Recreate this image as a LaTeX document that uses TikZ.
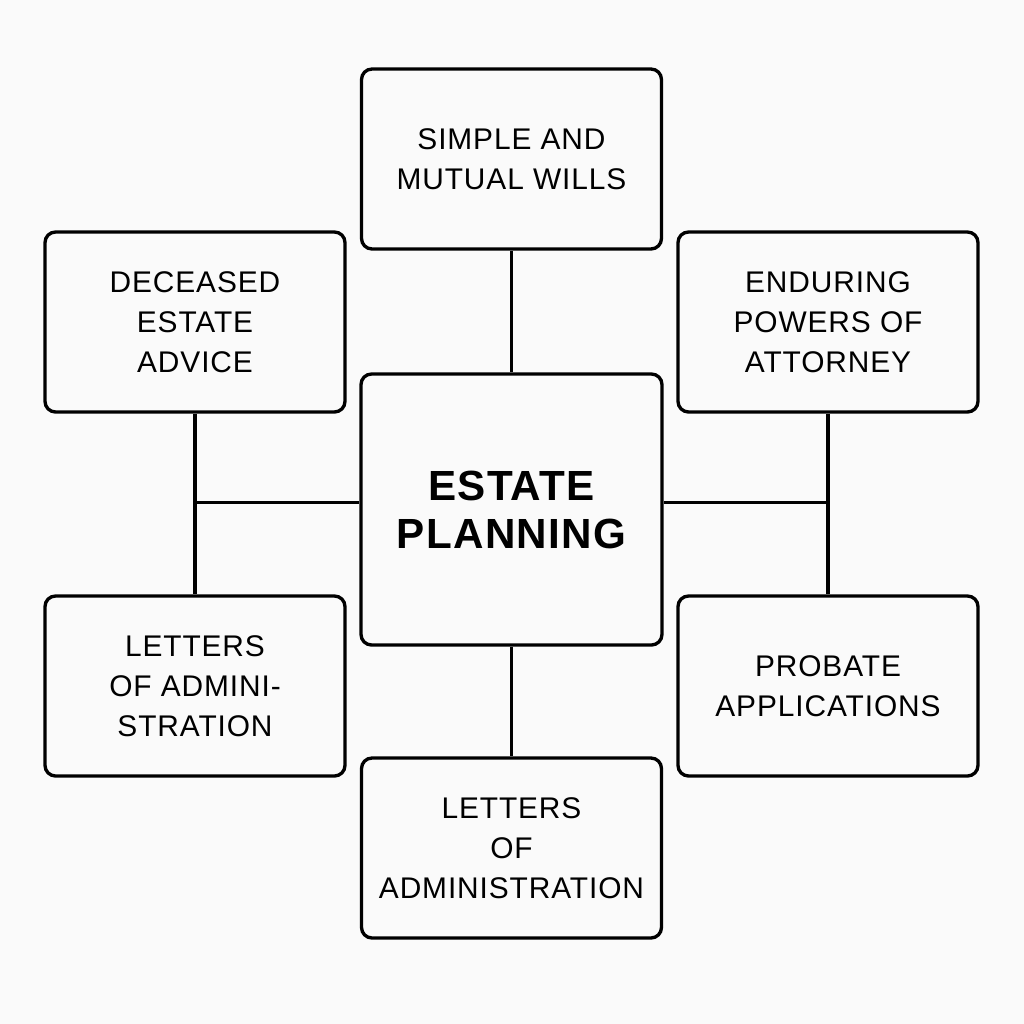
\documentclass[tikz,border=0pt]{standalone}
\usepackage{fontspec}
\setmainfont{Liberation Sans}[LetterSpace=3]
\usetikzlibrary{positioning,calc}

\begin{document}
\begin{tikzpicture}[
  font=\fontsize{17}{22.8}\selectfont,
  box/.style={
    draw,
    line width=1.9pt,
    rounded corners=6pt,
    align=center,
    minimum width=6cm,
    minimum height=3.6cm,
    inner sep=3pt
  },
  hubbox/.style={
    box,
    minimum width=6.02cm,
    minimum height=5.42cm,
    font=\fontsize{24}{27.3}\selectfont\bfseries
  },
  link/.style={
    line width=1.9pt
  }
]

\useasboundingbox[fill=black!2] (0,0) rectangle (20.48,-20.48);

% Hub
\node[hubbox] (hub) at (10.23,-10.19) {ESTATE\\PLANNING};

% Outer boxes
\node[box] (wills) at (10.23,-3.18) {SIMPLE AND\\MUTUAL WILLS};
\node[box] (deceased) at (3.90,-6.44) {DECEASED\\ESTATE\\ADVICE};
\node[box] (attorney) at (16.56,-6.44) {ENDURING\\POWERS OF\\ATTORNEY};
\node[box] (letters_split) at (3.90,-13.72) {LETTERS\\OF ADMINI-\\STRATION};
\node[box] (probate) at (16.56,-13.72) {PROBATE\\APPLICATIONS};
\node[box] (letters) at (10.23,-16.96) {LETTERS\\OF\\ADMINISTRATION};

% Joins
\coordinate (ljoin) at ($(deceased.south)!0.49!(letters_split.north)$);
\coordinate (rjoin) at ($(attorney.south)!0.49!(probate.north)$);

% Connectors
\draw[link] (wills) -- (hub);
\draw[link] (hub) -- (letters);
\draw[link] (deceased) -- (letters_split);
\draw[link] (attorney) -- (probate);
\draw[link] (ljoin) -- (hub.west |- ljoin);
\draw[link] (rjoin) -- (hub.east |- rjoin);

\end{tikzpicture}
\end{document}
